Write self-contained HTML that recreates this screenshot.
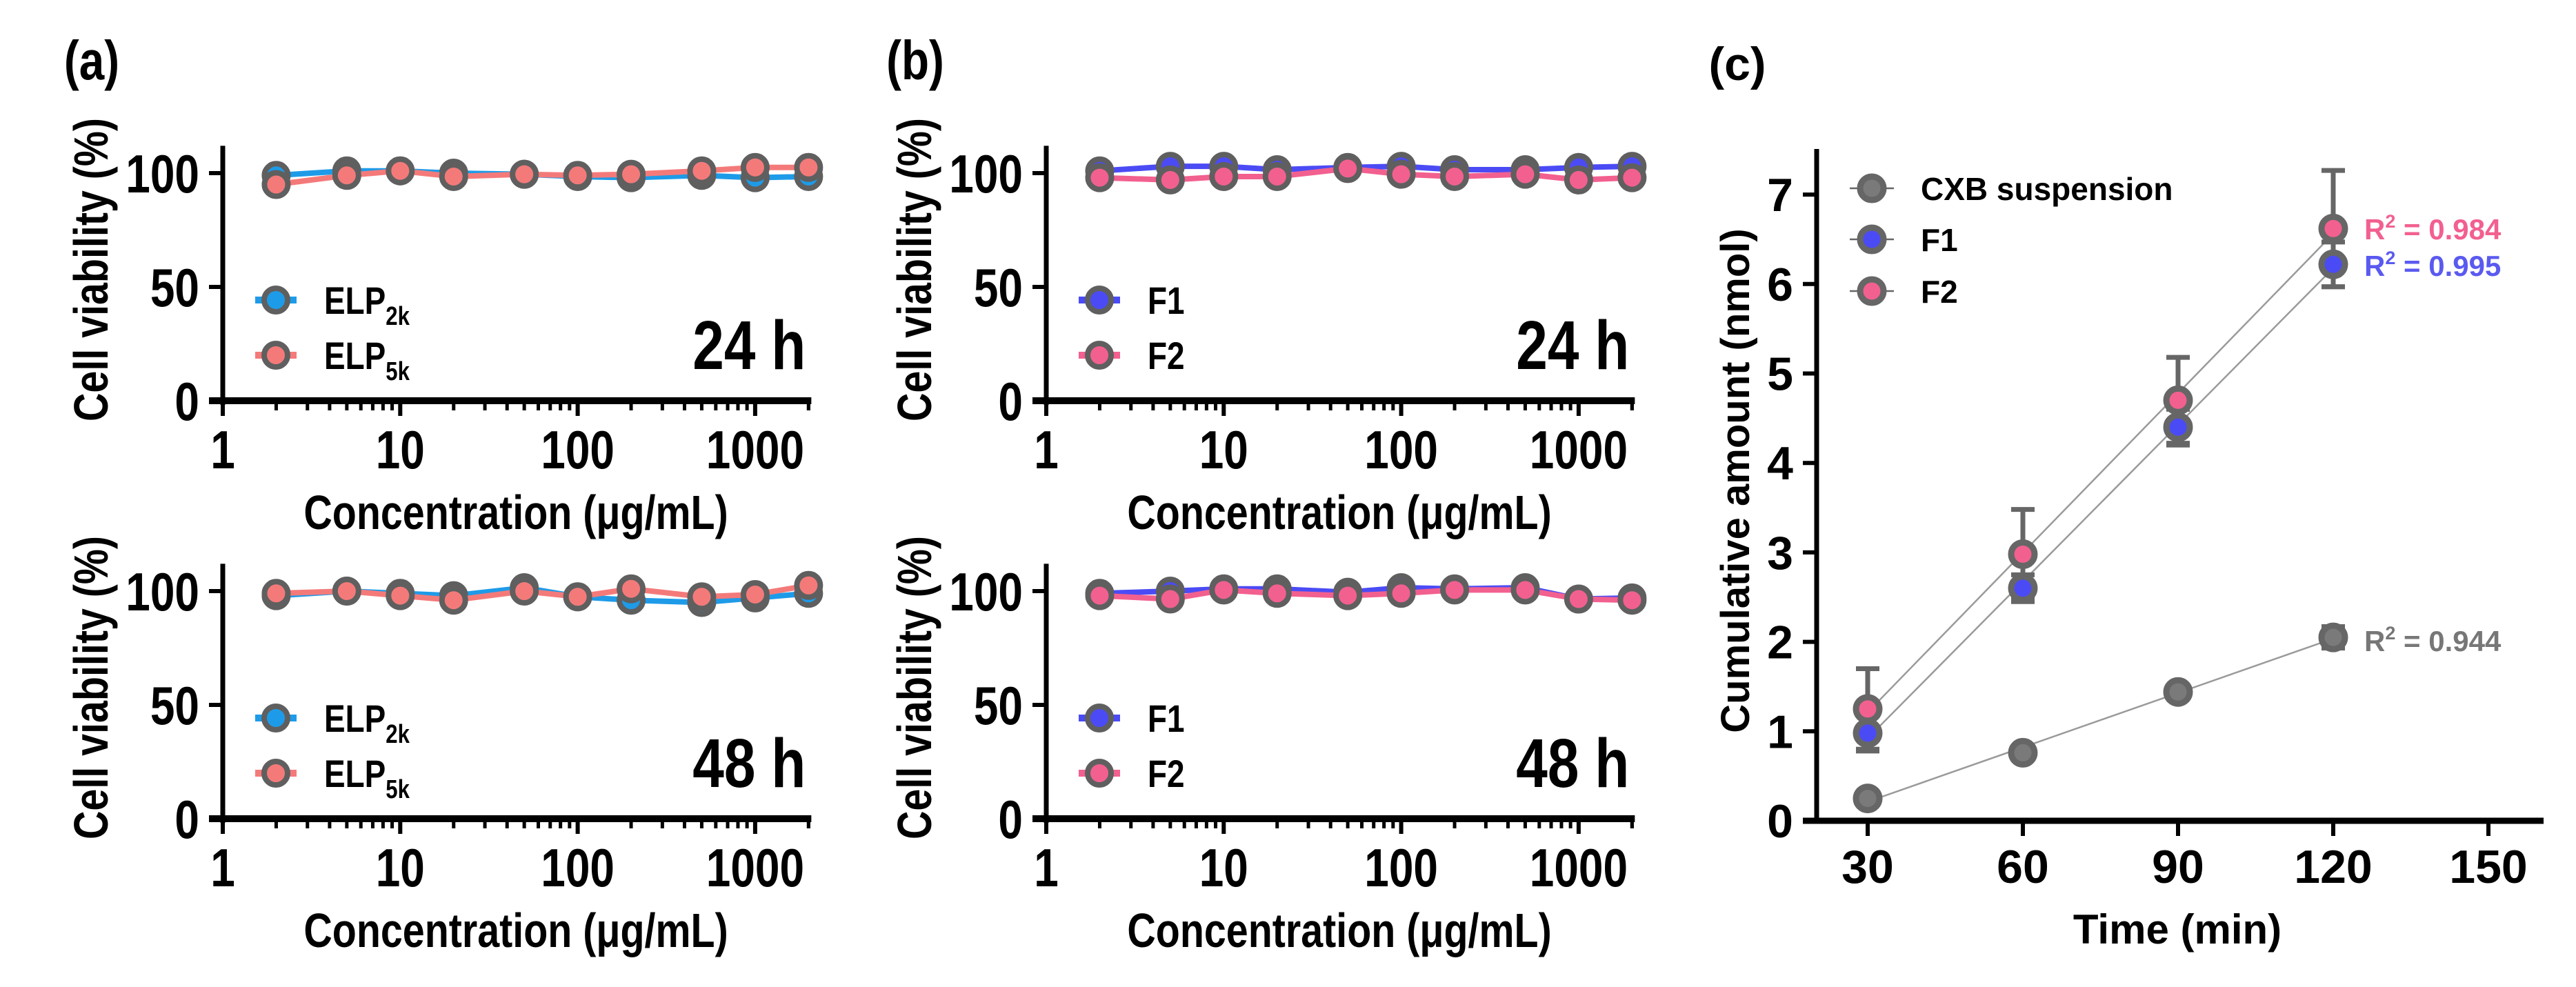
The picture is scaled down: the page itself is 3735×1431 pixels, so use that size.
<!DOCTYPE html>
<html><head><meta charset="utf-8"><style>
html,body{margin:0;padding:0;background:#fff;}
svg{display:block;font-family:"Liberation Sans",Arial,sans-serif;font-weight:bold;}
</style></head>
<body>
<svg id="fig" width="3735" height="1431" viewBox="0 0 3735 1431" xmlns="http://www.w3.org/2000/svg"></svg>
<script>
// ---- data ----
const conc = [2,5,10,20,50,100,200,500,1000,2000];
const elp2k24 = [99,101,101,100,99.5,98.5,98,99,98,98.5];
const elp5k24 = [95,99,101,98.5,99.5,99,99.5,101,102.5,102.5];
const elp2k48 = [98,100,99,98,101.5,97.5,96,95,97,99];
const elp5k48 = [99,100,98,96,100,97.5,101,97.5,98.5,102.5];
const f1v24 = [101,103,103,101.5,102.5,103,101.5,101.5,102.5,103];
const f2v24 = [98,97,98.5,98.5,102,99.5,98.5,99.5,97,98];
const f1v48 = [99,100,101,101,99.5,101.5,101,101.5,96.5,97];
const f2v48 = [98,96.5,100.5,99,98,99,100.5,100.5,96.5,96];
const yTicksViab = [0,50,100];
const xTicksLog = [1,10,100,1000];

const timePts = [30,60,90,120];
const cxbVals = [0.25,0.76,1.44,2.05];
const cxbErr = [0.05,0.05,0.06,0.12];
const f1Vals = [0.98,2.6,4.4,6.22];
const f1Err = [0.2,0.15,0.2,0.25];
const f2Vals = [1.25,2.98,4.7,6.62];
const f2Err = [0.45,0.5,0.48,0.65];
const timeTicks = [30,60,90,120,150];
const amtTicks = [0,1,2,3,4,5,6,7];
const r2Labels = ["0.984","0.995","0.944"];

const NS="http://www.w3.org/2000/svg";
const svg=document.getElementById('fig');
function mk(tag,attrs,parent){const e=document.createElementNS(NS,tag);for(const k in attrs)e.setAttribute(k,attrs[k]);(parent||svg).appendChild(e);return e;}
function txt(s,x,y,size,anchor,parent,fill){const t=mk('text',{x:x,y:y,'font-size':size,'text-anchor':anchor||'middle',fill:fill||'#000'},parent);t.textContent=s;return t;}
// condensed text
function ctxt(s,x,y,size,anchor,parent,rot){
  const tr=`translate(${x},${y})`+(rot?' rotate(-90)':'')+' scale(0.82,1)';
  const t=mk('text',{x:0,y:0,'font-size':size,'text-anchor':anchor||'middle',transform:tr},parent);
  if(s!==null)t.textContent=s;return t;
}

const C_BLUE="#1e9be8", C_SALMON="#f47a7a", C_F1="#4b4bf5", C_F2="#f2608f", C_GRAY="#5f5f5f";

function viabPanel(name,ox,y0,label,series,showLetter,letter){
  const g=mk('g',{});
  
  
  const dec=257.3, unit=3.3;
  const X=v=>ox+dec*Math.log10(v);
  const Y=v=>y0-unit*v;
  const xEnd=X(2000)+4;
  const ya=mk('line',{x1:ox,y1:Y(112),x2:ox,y2:y0+6,stroke:'#000','stroke-width':7},g);
  
  
  const xa=mk('line',{x1:ox-20,y1:y0,x2:xEnd,y2:y0,stroke:'#000','stroke-width':10},g);
  
  
  yTicksViab.forEach(v=>{
    mk('line',{x1:ox-20,y1:Y(v),x2:ox,y2:Y(v),stroke:'#000','stroke-width':6},g);
    const t=ctxt(String(v),ox-34,Y(v)+28,78,'end',g);
    
    
  });
  for(let d=0;d<4;d++){
    for(let m=1;m<=9;m++){
      const v=Math.pow(10,d)*m; if(v>2000)break;
      const major=(m===1);
      if(v===1)continue;
      mk('line',{x1:X(v),y1:y0,x2:X(v),y2:y0+(major?22:14),stroke:'#000','stroke-width':major?6:5},g);
    }
  }
  mk('line',{x1:X(2000),y1:y0,x2:X(2000),y2:y0+14,stroke:'#000','stroke-width':5},g);
  mk('line',{x1:ox,y1:y0,x2:ox,y2:y0+22,stroke:'#000','stroke-width':6},g);
  xTicksLog.forEach(v=>{
    const t=ctxt(String(v),X(v),y0+98,78,'middle',g);
    
    
  });
  const xt=ctxt('Concentration (\u03bcg/mL)',ox+425,y0+186,70,'middle',g);
  
  
  const ytt=ctxt('Cell viability (%)',ox-167,y0-190,70,'middle',g,true);
  
  
  series.forEach((s,si)=>{
    const pts=conc.map((c,i)=>X(c)+','+Y(s.vals[i])).join(' ');
    const pl=mk('polyline',{points:pts,fill:'none',stroke:s.color,'stroke-width':8,'stroke-linejoin':'round'},g);
    
    
    conc.forEach((c,i)=>{
      const p=mk('circle',{cx:X(c),cy:Y(s.vals[i]),r:17,fill:s.color,stroke:C_GRAY,'stroke-width':8},g);
      
      
    });
    const ly=y0-146+si*80;
    const lx=ox+77;
    mk('line',{x1:lx-30,y1:ly,x2:lx+30,y2:ly,stroke:s.color,'stroke-width':10},g);
    const lc=mk('circle',{cx:lx,cy:ly,r:17,fill:s.color,stroke:C_GRAY,'stroke-width':8},g);
    
    
    const lt=ctxt(null,lx+70,ly+20,56,'start',g);
    
    
    if(s.sub){
      lt.appendChild(document.createTextNode(s.label));
      const ts=document.createElementNS(NS,'tspan');ts.setAttribute('font-size',38);ts.setAttribute('dy',16);ts.textContent=s.sub;lt.appendChild(ts);
    } else lt.textContent=s.label;
  });
  const lab=ctxt(label,xEnd-8,y0-46,100,'end',g);
  
  
  if(showLetter){
    const L=ctxt(letter,ox-190,y0-466,80,'middle',g);
    
    
  }
}

viabPanel('panel-a-24h',323,581,'24 h',[{key:'elp2k',vals:elp2k24,color:C_BLUE,label:'ELP',sub:'2k'},{key:'elp5k',vals:elp5k24,color:C_SALMON,label:'ELP',sub:'5k'}],true,'(a)');
viabPanel('panel-a-48h',323,1187,'48 h',[{key:'elp2k',vals:elp2k48,color:C_BLUE,label:'ELP',sub:'2k'},{key:'elp5k',vals:elp5k48,color:C_SALMON,label:'ELP',sub:'5k'}],false);
viabPanel('panel-b-24h',1517,581,'24 h',[{key:'f1',vals:f1v24,color:C_F1,label:'F1'},{key:'f2',vals:f2v24,color:C_F2,label:'F2'}],true,'(b)');
viabPanel('panel-b-48h',1517,1187,'48 h',[{key:'f1',vals:f1v48,color:C_F1,label:'F1'},{key:'f2',vals:f2v48,color:C_F2,label:'F2'}],false);

// ---- panel c ----
(function(){
  const g=mk('g',{});
  
  
  const ax=2634, y0=1190, unit=129.7;
  const X=v=>2708+(v-30)*7.5;
  const Y=v=>y0-unit*v;
  const ya=mk('line',{x1:ax,y1:216,x2:ax,y2:y0,stroke:'#000','stroke-width':7},g);
  
  
  const xa=mk('line',{x1:2614,y1:y0,x2:3688,y2:y0,stroke:'#000','stroke-width':9},g);
  
  
  amtTicks.forEach(v=>{
    mk('line',{x1:ax-20,y1:Y(v),x2:ax,y2:Y(v),stroke:'#000','stroke-width':6},g);
    const t=txt(String(v),ax-34,Y(v)+24,68,'end',g);
    
    
  });
  timeTicks.forEach(v=>{
    mk('line',{x1:X(v),y1:y0,x2:X(v),y2:y0+22,stroke:'#000','stroke-width':6},g);
    const t=txt(String(v),X(v),y0+90,68,'middle',g);
    
    
  });
  const xt=txt('Time (min)',3157,y0+178,60,'middle',g);
  
  
  const yt=mk('text',{x:0,y:0,'font-size':58,'text-anchor':'middle',transform:'translate(2536,697) rotate(-90)'},g);
  yt.textContent='Cumulative amount (nmol)';
  
  
  const L=txt('(c)',2519,116,68,'middle',g);
  
  

  const series=[
    {key:'cxb',vals:cxbVals,err:cxbErr,color:'#7a7a7a',label:'CXB suspension',r2:r2Labels[2],r2y:929,r2c:'#777'},
    {key:'f1',vals:f1Vals,err:f1Err,color:C_F1,label:'F1',r2:r2Labels[1],r2y:385,r2c:'#5a5af0'},
    {key:'f2',vals:f2Vals,err:f2Err,color:C_F2,label:'F2',r2:r2Labels[0],r2y:332,r2c:'#f2608f'}
  ];
  series.forEach(s=>{
    const n=timePts.length;const mx=timePts.reduce((a,b)=>a+b)/n;const my=s.vals.reduce((a,b)=>a+b)/n;
    let sxy=0,sxx=0;timePts.forEach((t,i)=>{sxy+=(t-mx)*(s.vals[i]-my);sxx+=(t-mx)*(t-mx);});
    const b=sxy/sxx,a=my-b*mx;
    const fl=mk('line',{x1:X(30),y1:Y(a+b*30),x2:X(120),y2:Y(a+b*120),stroke:'#9a9a9a','stroke-width':2.5},g);
    
    
  });
  series.forEach(s=>{
    timePts.forEach((t,i)=>{
      const top=Y(s.vals[i]+s.err[i]), bot=Y(s.vals[i]-s.err[i]);
      const eb=mk('path',{d:`M${X(t)},${top}V${bot}M${X(t)-17},${top}H${X(t)+17}M${X(t)-17},${bot}H${X(t)+17}`,stroke:'#666','stroke-width':7,fill:'none'},g);
      
      
    });
  });
  series.forEach((s,si)=>{
    timePts.forEach((t,i)=>{
      const p=mk('circle',{cx:X(t),cy:Y(s.vals[i]),r:17,fill:s.color,stroke:'#666','stroke-width':9},g);
      
      
    });
    const ly=[273,347,422][si];
    mk('line',{x1:2682,y1:ly,x2:2746,y2:ly,stroke:'#666','stroke-width':2.5},g);
    const lc=mk('circle',{cx:2714,cy:ly,r:17,fill:s.color,stroke:'#666','stroke-width':9},g);
    
    
    const lt=txt(s.label,2785,ly+17,46,'start',g);
    
    
    const rt=mk('text',{x:3428,y:s.r2y+15,'font-size':42,fill:s.r2c},g);
    
    
    rt.appendChild(document.createTextNode('R'));
    const sp=document.createElementNS(NS,'tspan');sp.setAttribute('font-size',27);sp.setAttribute('dy',-17);sp.textContent='2';rt.appendChild(sp);
    const sp2=document.createElementNS(NS,'tspan');sp2.setAttribute('dy',17);sp2.textContent=' = '+s.r2;rt.appendChild(sp2);
  });
})();
</script>
</body></html>
